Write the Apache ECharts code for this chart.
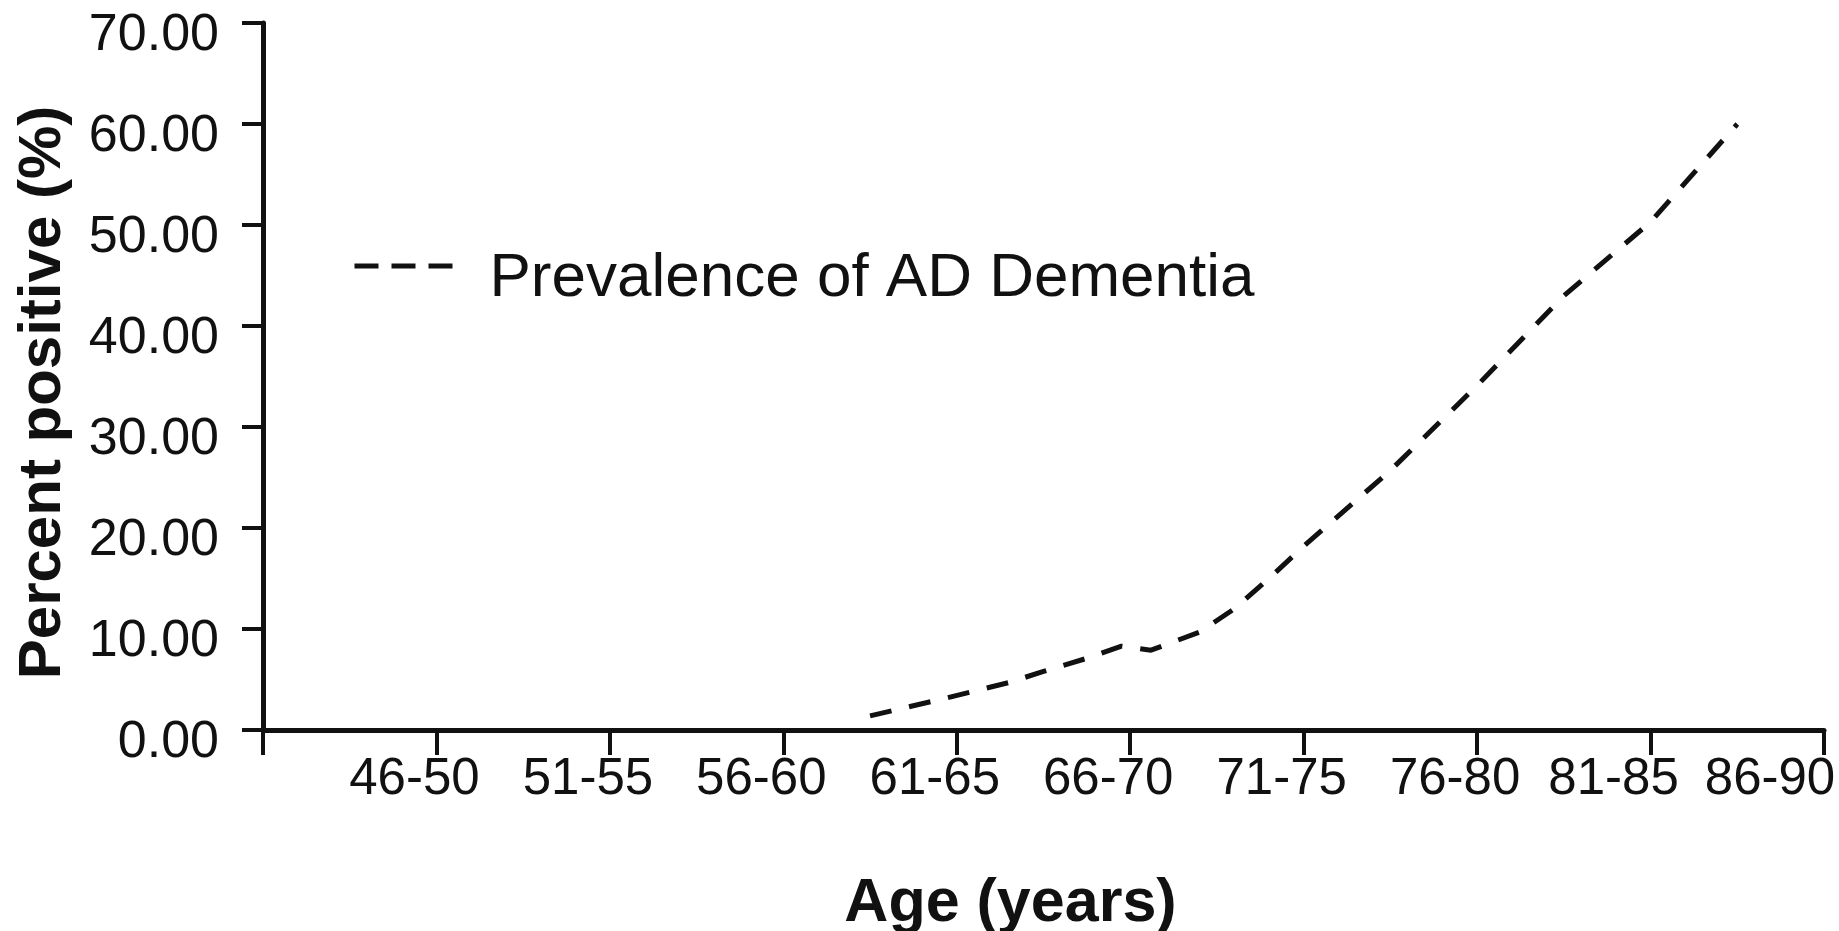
<!DOCTYPE html>
<html>
<head>
<meta charset="utf-8">
<script src="https://cdn.jsdelivr.net/npm/echarts@6/dist/echarts.min.js"></script>
<style>
html,body{margin:0;padding:0;background:#fff;}
#chart{width:1839px;height:931px;}
</style>
</head>
<body>
<div id="chart"></div>
<script>
// Age group labels (one per x tick, tick i = 1..9)
const ageGroups = ['46-50','51-55','56-60','61-65','66-70','71-75','76-80','81-85','86-90'];
// y tick labels
const yTicks = [0,10,20,30,40,50,60,70];
// Prevalence of AD Dementia: positions along the age axis (tick units) and values (%)
const prevX = [3.5, 3.9, 4.3, 4.5, 4.75, 4.95, 5.12, 5.4, 5.6, 5.8, 6.0, 6.5, 7.0, 7.5, 8.0, 8.5];
const prevVals = [1.4, 3.0, 4.7, 5.8, 7.1, 8.3, 7.9, 9.7, 12.0, 15.0, 18.2, 25.7, 34.1, 43.0, 50.3, 60.0];
const seriesName = 'Prevalence of AD Dementia';

const FONT = '"Liberation Sans", Arial, Helvetica, sans-serif';
const INK = '#111';

const chart = echarts.init(document.getElementById('chart'), null, {renderer: 'canvas'});
chart.setOption({
  animation: false,
  backgroundColor: '#fff',
  grid: {left: 263, right: 15, top: 23, bottom: 201, containLabel: false, outerBoundsMode: 'none'},
  legend: {
    data: [seriesName],
    left: 352,
    top: 248,
    padding: 0,
    itemWidth: 100,
    itemHeight: 14,
    itemStyle: {opacity: 0},
    lineStyle: {color: INK, width: 5, type: [24, 13]},
    formatter: '{t|{name}}',
    textStyle: {
      fontSize: 62, color: INK, fontFamily: FONT,
      rich: {t: {fontSize: 62, color: INK, fontFamily: FONT, padding: [26, 0, 0, 30]}}
    }
  },
  xAxis: {
    type: 'value',
    min: 0, max: ageGroups.length, interval: 1,
    name: 'Age (years)',
    nameLocation: 'middle',
    nameGap: 144,
    nameTextStyle: {fontSize: 61, fontWeight: 'bold', color: INK, fontFamily: FONT, padding: [0, 66, 0, 0]},
    splitLine: {show: false},
    axisLine: {show: true, onZero: false, lineStyle: {color: INK, width: 5}},
    axisTick: {show: true, length: 25, lineStyle: {color: INK, width: 4}},
    axisLabel: {
      margin: 24,
      fontSize: 51, color: INK, fontFamily: FONT,
      formatter: function (v) {
        const i = Math.round(v);
        if (i < 1 || i > ageGroups.length) return '';
        const key = i === 9 ? 'c' : (i === 8 ? 'b' : 'a');
        return '{' + key + '|' + ageGroups[i - 1] + '}';
      },
      rich: {
        a: {fontSize: 51, color: INK, fontFamily: FONT, padding: [0, 44, 0, 0]},
        b: {fontSize: 51, color: INK, fontFamily: FONT, padding: [0, 74, 0, 0]},
        c: {fontSize: 51, color: INK, fontFamily: FONT, padding: [0, 108, 0, 0]}
      }
    }
  },
  yAxis: {
    type: 'value',
    min: yTicks[0], max: yTicks[yTicks.length - 1], interval: 10,
    name: 'Percent positive (%)',
    nameLocation: 'middle',
    nameGap: 190,
    nameRotate: 90,
    nameTextStyle: {fontSize: 60, fontWeight: 'bold', color: INK, fontFamily: FONT, padding: [0, 32, 0, 0]},
    splitLine: {show: false},
    axisLine: {show: true, lineStyle: {color: INK, width: 5}},
    axisTick: {show: true, length: 21, lineStyle: {color: INK, width: 4}},
    axisLabel: {
      margin: 44,
      fontSize: 52, color: INK, fontFamily: FONT,
      formatter: function (v) { return '{v|' + v.toFixed(2) + '}'; },
      rich: {v: {fontSize: 52, color: INK, fontFamily: FONT, padding: [26, 0, 0, 0]}}
    }
  },
  series: [{
    name: seriesName,
    type: 'line',
    data: prevX.map(function (x, i) { return [x, prevVals[i]]; }),
    symbol: 'none',
    smooth: false,
    itemStyle: {color: INK},
    lineStyle: {color: INK, width: 5, type: [22, 18]}
  }]
});
</script>
</body>
</html>
